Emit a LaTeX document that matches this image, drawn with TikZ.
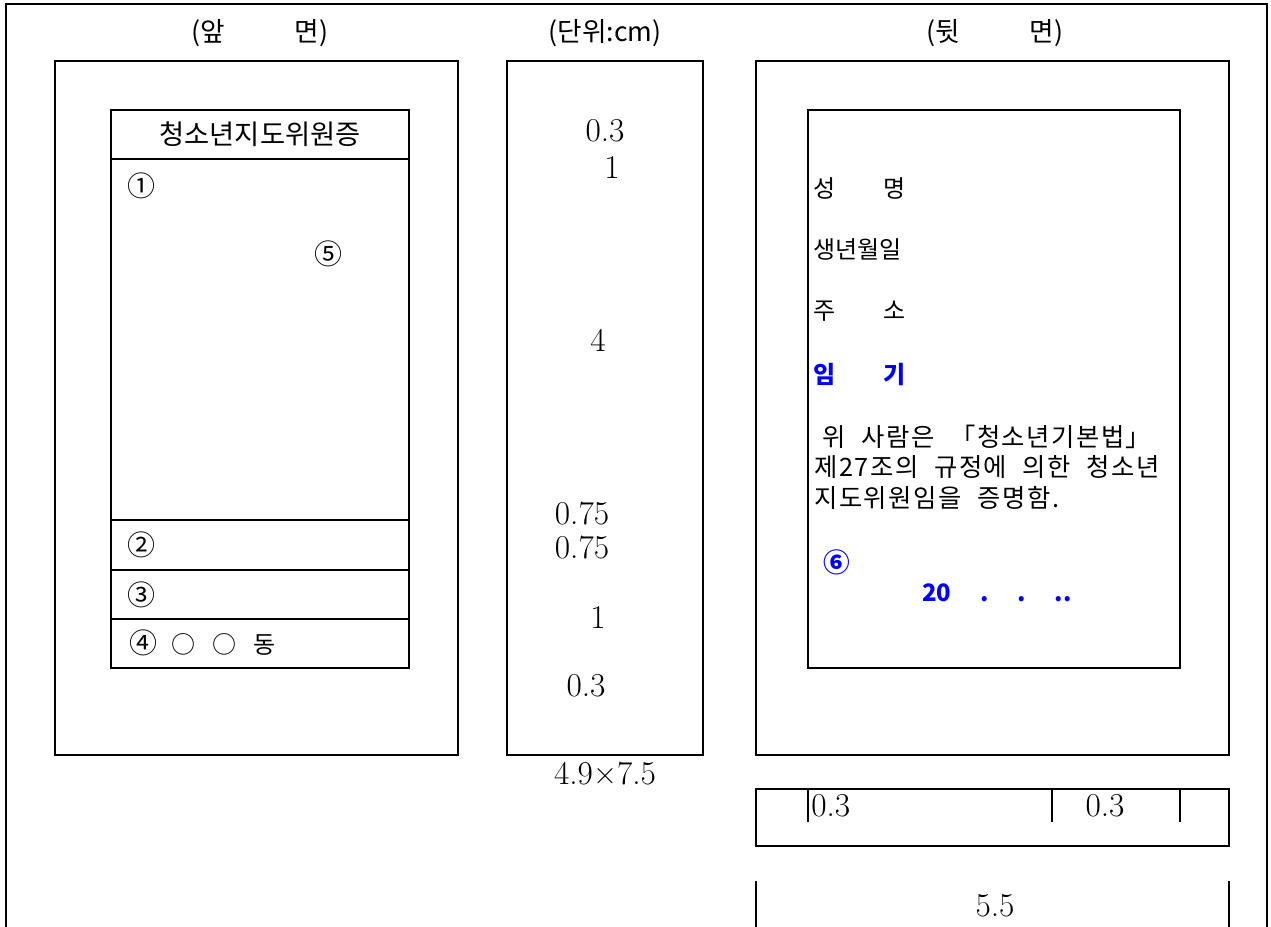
\documentclass[tikz,border=0pt]{standalone}
\usepackage{fontspec}
\usepackage{tikz}
\newfontfamily\kr[WordSpace=2.2]{Noto Sans CJK KR}
\newfontfamily\krwide[WordSpace=2.2,LetterSpace=6]{Noto Sans CJK KR}
\tikzset{
    frame/.style={line width=1.4pt},
    num/.style={inner sep=0pt, font=\fontsize{25}{28}\selectfont},
    hangul/.style={inner sep=0pt, font=\fontsize{18}{22}\selectfont\kr},
    lhangul/.style={hangul, anchor=west},
    circled/.style={hangul, font=\fontsize{21}{24}\selectfont\kr},
    heading/.style={hangul, font=\fontsize{20}{24}\selectfont\kr},
    para/.style={lhangul, font=\fontsize{19}{22}\selectfont\krwide},
    bluetext/.style={lhangul, text=blue, font=\fontsize{18}{22}\selectfont\kr\bfseries}
}

\begin{document}
\begin{tikzpicture}[x=0.75pt,y=-0.75pt]
    \useasboundingbox (0,0) rectangle (1271,927);
    \draw[frame] (6,927) -- (6,4) -- (1267,4) -- (1267,927);

    \draw[frame] (55,61) rectangle (458,755);
    \draw[frame] (111,110) rectangle (409,668);
    \foreach \y in {159,520,570,619}
        \draw[frame] (111,\y) -- (409,\y);
    \draw[frame] (507,61) rectangle (703,755);
    \draw[frame] (756,61) rectangle (1229,755);
    \draw[frame] (808,110) rectangle (1180,668);
    \draw[frame] (756,789) rectangle (1229,846);
    \foreach \x in {808,1052,1180}
        \draw[frame] (\x,789) -- (\x,822);
    \draw[frame] (756,881) -- (756,927);
    \draw[frame] (1229,881) -- (1229,927);

    \node[heading] (front) at (260,33) {(앞\hspace{2.6em}면)};
    \node[heading] (unit) at (605,33) {(단위:cm)};
    \node[heading] (back) at (995,33) {(뒷\hspace{2.6em}면)};

    \node[hangul, font=\fontsize{20.5}{24}\selectfont\kr] (title) at (260,134) {청소년지도위원증};
    \node[circled] (c1) at (141,186) {①};
    \node[circled] (c5) at (328,254) {⑤};
    \node[circled] (c2) at (141,545) {②};
    \node[circled] (c3) at (141,595) {③};
    \node[lhangul] (c4) at (129,643) {{\fontsize{21}{24}\selectfont ④}\hspace{0.6em}○\hspace{0.7em}○\hspace{0.7em}동};

    \node[num] (m03a) at (605,131) {0.3};
    \node[num] (m1a) at (612,167) {1};
    \node[num] (m4) at (598,340) {4};
    \node[num] (m075a) at (582,513) {0.75};
    \node[num] (m075b) at (582,547) {0.75};
    \node[num] (m1b) at (598,617) {1};
    \node[num] (m03b) at (586,686) {0.3};
    \node[num] (size) at (605,773) {4.9×7.5};

    \node[lhangul] (name) at (813,188) {성\hspace{2em}명};
    \node[lhangul] (birth) at (813,249) {생년월일};
    \node[lhangul] (addr) at (813,311) {주\hspace{2em}소};
    \node[bluetext] (term) at (813,374) {임\hspace{2em}기};
    \node[para] (p1) at (822,437) {위 사람은 「청소년기본법」};
    \node[para] (p2) at (814,467) {제27조의 규정에 의한 청소년};
    \node[para] (p3) at (814,498) {지도위원임을 증명함.};
    \node[bluetext, font=\fontsize{20}{24}\selectfont\kr\bfseries] (c6) at (823,562) {⑥};
    \node[bluetext] (date) at (922,593) {20\hspace{1.2em}.\hspace{1.2em}.\hspace{1.2em}..};

    \node[num, anchor=west] (s03a) at (811,806) {0.3};
    \node[num] (s03b) at (1105,806) {0.3};
    \node[num] (s55) at (995,906) {5.5};
\end{tikzpicture}
\end{document}
